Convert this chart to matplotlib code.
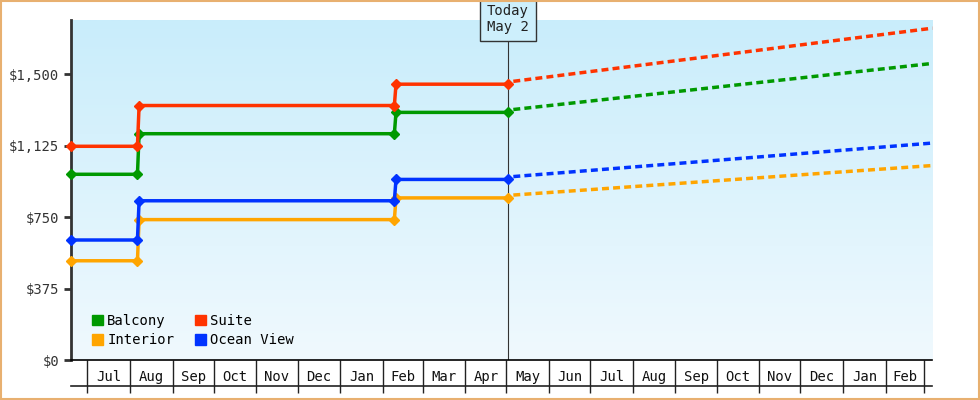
import numpy as np
import matplotlib.pyplot as plt
import matplotlib.dates as mdates
from matplotlib.colors import LinearSegmentedColormap
from datetime import date, timedelta

# price history (step changes) and forecast
change_dates = [date(2023, 6, 19), date(2023, 8, 7), date(2024, 2, 10), date(2024, 5, 2)]
today = date(2024, 5, 2)
end_date = date(2025, 3, 7)

names = ["Balcony", "Suite", "Interior", "Ocean View"]
colors = ["#009900", "#ff3300", "#ffa500", "#0033ff"]
history = {
    "Balcony": [975, 1188, 1300],
    "Suite": [1122, 1336, 1448],
    "Interior": [521, 737, 851],
    "Ocean View": [630, 836, 948],
}
forecast_end = {"Balcony": 1557, "Suite": 1742, "Interior": 1021, "Ocean View": 1139}

month_labels = ["Jul", "Aug", "Sep", "Oct", "Nov", "Dec", "Jan", "Feb", "Mar", "Apr",
                "May", "Jun", "Jul", "Aug", "Sep", "Oct", "Nov", "Dec", "Jan", "Feb"]
yticks = [0, 375, 750, 1125, 1500]

plt.rcParams["font.family"] = "DejaVu Sans Mono"
fig = plt.figure(figsize=(9.8, 4.0), dpi=100)
fig.patches.append(plt.Rectangle((0.001, 0.002), 0.998, 0.996, transform=fig.transFigure,
                                 fill=False, edgecolor="#e8b070", lw=1.5))
ax = fig.add_axes([0.0724, 0.10, 0.879, 0.85])

x0, x1 = mdates.date2num(change_dates[0]), mdates.date2num(end_date)
ax.set_xlim(x0, x1)
ax.set_ylim(0, 1785)

cmap = LinearSegmentedColormap.from_list("bg", ["#f0f9fe", "#c9edfb"])
ax.imshow(np.linspace(0, 1, 256).reshape(-1, 1), cmap=cmap, aspect="auto",
          extent=[x0, x1, 0, 1785], origin="lower", zorder=0)

dn = [mdates.date2num(d) for d in change_dates]
for name, col in zip(names, colors):
    v = history[name]
    xs = [dn[0], dn[1] - 0.6, dn[1] + 0.6, dn[2] - 0.6, dn[2] + 0.6, dn[3]]
    ys = [v[0], v[0], v[1], v[1], v[2], v[2]]
    ax.plot(xs, ys, color=col, lw=2.5, marker="D", ms=5, zorder=3, clip_on=False)
    ax.plot([dn[3] + 4, x1], [v[2] + 15, forecast_end[name]], color=col, lw=2.5,
            ls=(0, (2, 1.2)), zorder=3, clip_on=False)

# today marker
tn = mdates.date2num(today)
ax.axvline(tn, color="#333333", lw=0.8, zorder=2)
ax.text(tn, 1785 + 5, "Today\nMay 2", ha="center", va="center", fontsize=10,
        color="#222222", zorder=5, clip_on=False,
        bbox=dict(boxstyle="square,pad=0.5", fc="#cdeffc", ec="#333333", lw=1))

# y axis
ax.set_yticks(yticks)
ax.set_yticklabels(["$0", "$375", "$750", "$1,125", "$1,500"])
ax.tick_params(axis="y", length=5, width=2, color="#333333", labelsize=10, labelcolor="#333333")
for s in ["top", "right"]:
    ax.spines[s].set_visible(False)
ax.spines["left"].set_linewidth(2)
ax.spines["left"].set_color("#333333")
ax.spines["bottom"].set_linewidth(1.2)

# month boxes on x axis
starts = [date(2023 + (6 + i) // 12, (6 + i) % 12 + 1, 1) for i in range(21)]
sn = [mdates.date2num(d) for d in starts]
ax.set_xticks(sn, minor=True)
ax.tick_params(axis="x", which="minor", length=24, width=1, color="#222222")
mids = [(a + b) / 2 for a, b in zip(sn[:-1], sn[1:])]
ax.set_xticks(mids)
ax.set_xticklabels(month_labels)
ax.tick_params(axis="x", which="major", length=0, pad=7, labelsize=10, labelcolor="#111111")
ax.plot([0, 1], [-0.075, -0.075], transform=ax.transAxes, color="#222222", lw=1.2, clip_on=False)

handles = [plt.Rectangle((0, 0), 1, 1, color=c) for c in colors]
order = [0, 2, 1, 3]
ax.legend([handles[i] for i in order], [names[i] for i in order], ncol=2, loc="lower left",
          bbox_to_anchor=(0.01, 0.0), frameon=False, fontsize=10, handlelength=0.8,
          handleheight=0.8, handletextpad=0.3, columnspacing=1.5, labelspacing=0.4)

fig.savefig("out.png", dpi=100)
